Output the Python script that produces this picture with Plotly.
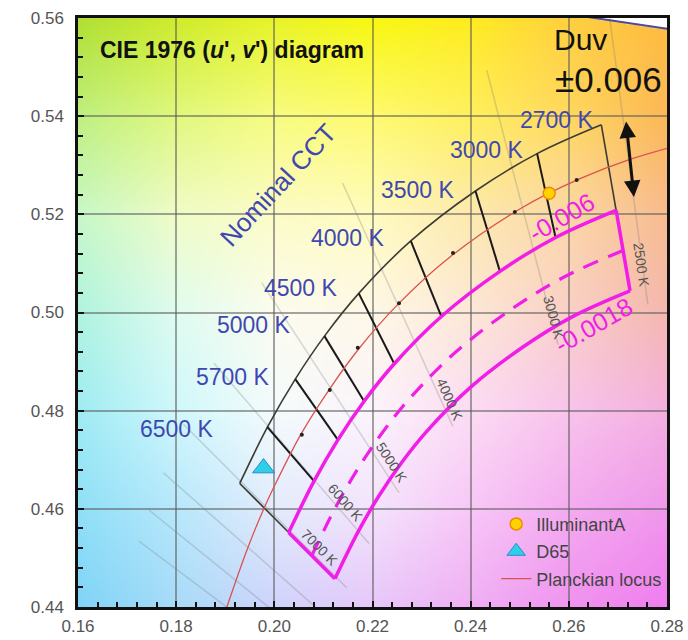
import base64, struct, zlib
import numpy as np
import plotly.graph_objects as go

# ---------------- data (CIE 1976 u', v') ----------------
# Planckian locus
locus_cct = [10000, 8000, 7000, 6500, 5700, 5000, 4500, 4000, 3500, 3000, 2700, 2500, 2200]
locus_u = [0.19032, 0.19462, 0.19811, 0.20044, 0.20552, 0.21142, 0.21730, 0.22513, 0.23572, 0.25054, 0.26252, 0.27217, 0.28757]
locus_v = [0.43998, 0.45214, 0.46059, 0.46552, 0.47537, 0.48466, 0.49272, 0.50161, 0.51126, 0.52140, 0.52736, 0.53111, 0.53549]

# spectrum locus (top-right corner)
spec_u = [0.2312, 0.2623, 0.2960]
spec_v = [0.5651, 0.5604, 0.5554]

# nominal CCT quadrangles, boundary CCTs
quad_cct = [7040, 6020, 5311, 4745, 4260, 3710, 3220, 2870, 2580]
quad_upper_u = [0.19295, 0.19859, 0.20427, 0.21021, 0.21720, 0.22780, 0.24098, 0.25354, 0.26662]  # Duv +0.006
quad_upper_v = [0.46517, 0.47664, 0.48644, 0.49519, 0.50390, 0.51458, 0.52476, 0.53237, 0.53824]
quad_lower_u = [0.20293, 0.20809, 0.21295, 0.21829, 0.22444, 0.23402, 0.24596, 0.25730, 0.26964]  # Duv -0.006
quad_lower_v = [0.45518, 0.46563, 0.47404, 0.48191, 0.48955, 0.49919, 0.50838, 0.51529, 0.52082]
# magenta region
mag_mid_u = [0.20763, 0.21255, 0.21705, 0.22210, 0.22786, 0.23696, 0.24830, 0.25908, 0.27105]
mag_mid_v = [0.45047, 0.46044, 0.46820, 0.47566, 0.48280, 0.49194, 0.50067, 0.50725, 0.51262]
mag_outer_u = [0.21234, 0.21703, 0.22113, 0.22591, 0.23127, 0.23989, 0.25065, 0.26085, 0.27247]
mag_outer_v = [0.44576, 0.45525, 0.46236, 0.46940, 0.47604, 0.48470, 0.49296, 0.49921, 0.50441]

# nominal CCT centre dots
dot_u = [0.2616, 0.2490, 0.2364, 0.2254, 0.2170, 0.2113, 0.2056]
dot_v = [0.5270, 0.5205, 0.5121, 0.5019, 0.4928, 0.4842, 0.4751]

# isotemperature lines (Duv +0.02 -> -0.02)
iso_cct = [2500, 3000, 4000, 5000, 6000, 7000, 8000, 9000, 10000]
iso_u0 = [0.26825, 0.24328, 0.21389, 0.19742, 0.18770, 0.18147, 0.17738, 0.17445, 0.17244]
iso_v0 = [0.56053, 0.54936, 0.52642, 0.50608, 0.48966, 0.47724, 0.46735, 0.45977, 0.45340]
iso_u1 = [0.27609, 0.25780, 0.23637, 0.22542, 0.21930, 0.21475, 0.21186, 0.20963, 0.20820]
iso_v1 = [0.50167, 0.49344, 0.47680, 0.46324, 0.45294, 0.44394, 0.43693, 0.43123, 0.42656]
iso_label = ["2500 K", "3000 K", "4000 K", "5000 K", "6000 K", "7000 K"]
iso_label_u = [0.27480, 0.25696, 0.23578, 0.22396, 0.21459, 0.20930]
iso_label_v = [0.50969, 0.49889, 0.48219, 0.46935, 0.46121, 0.45204]

# nominal CCT labels
cct_label = ["6500 K", "5700 K", "5000 K", "4500 K", "4000 K", "3500 K", "3000 K", "2700 K"]
cct_label_u = [0.18017, 0.19157, 0.19585, 0.20543, 0.21500, 0.22926, 0.24331, 0.25757]
cct_label_v = [0.47628, 0.48687, 0.49747, 0.50500, 0.51519, 0.52496, 0.53311, 0.53922]

# reference illuminants
illum_A = (0.2560, 0.5243)
illum_D65 = (0.1978, 0.4683)

x_ticks = [0.16, 0.18, 0.20, 0.22, 0.24, 0.26, 0.28]
y_ticks = [0.44, 0.46, 0.48, 0.50, 0.52, 0.54, 0.56]

# background colours read at the grid intersections (rows: v = 0.56 ... 0.44, cols: u = 0.16 ... 0.28)
bg_u = [0.16, 0.18, 0.20, 0.22, 0.24, 0.26, 0.28]
bg_v = [0.56, 0.54, 0.52, 0.50, 0.48, 0.46, 0.44]
bg_row_056 = ["b0e034", "d0ec2c", "e8f428", "f8f810", "ffec20", "ffd040", "ffbc40"]
bg_row_054 = ["c0f080", "e0f880", "f8fc80", "fffa70", "fff060", "ffd860", "fcb858"]
bg_row_052 = ["c8f8c8", "f0fcc8", "fcfcc8", "fffcc0", "fdeab0", "fcd8a8", "f8bc90"]
bg_row_050 = ["b0f4e0", "e0fcf0", "fcfcf0", "fff8e8", "fde8d8", "fad0c8", "f4b8b0"]
bg_row_048 = ["a0ecf4", "d0f8fc", "f4fcfc", "fcf4fc", "fcdcf4", "f8c4ec", "f4b0e0"]
bg_row_046 = ["90e0f8", "b8e8fc", "e4ecfc", "f4e4fc", "f8c8f8", "f4acf0", "f098ec"]
bg_row_044 = ["80d4f8", "a8dcf8", "d0d4fc", "e8c8fa", "f0b0f4", "f094f0", "f07ef0"]

# ---------------- background image ----------------
rows = [bg_row_056, bg_row_054, bg_row_052, bg_row_050, bg_row_048, bg_row_046, bg_row_044]
anchor = np.array([[[int(h[k:k + 2], 16) for k in (0, 2, 4)] for h in r] for r in rows], dtype=float)
N = 300
uu = 0.16 + (np.arange(N) + 0.5) * 0.12 / N
vv = 0.56 - (np.arange(N) + 0.5) * 0.12 / N
U, V = np.meshgrid(uu, vv)
fi = np.clip((U - bg_u[0]) / (bg_u[1] - bg_u[0]), 0, len(bg_u) - 1.0001)
fj = np.clip((bg_v[0] - V) / (bg_v[0] - bg_v[1]), 0, len(bg_v) - 1.0001)
i0 = fi.astype(int); j0 = fj.astype(int)
ti = (fi - i0)[..., None]; tj = (fj - j0)[..., None]
c00 = anchor[j0, i0]; c01 = anchor[j0, i0 + 1]; c10 = anchor[j0 + 1, i0]; c11 = anchor[j0 + 1, i0 + 1]
col = (c00 * (1 - ti) + c01 * ti) * (1 - tj) + (c10 * (1 - ti) + c11 * ti) * tj
outside = V > np.interp(U, spec_u, spec_v)
col[outside] = 255
img = np.clip(col, 0, 255).astype(np.uint8)


def png_bytes(a):
    h, w, _ = a.shape
    raw = b"".join(b"\x00" + a[i].tobytes() for i in range(h))

    def chunk(t, dd):
        return struct.pack(">I", len(dd)) + t + dd + struct.pack(">I", zlib.crc32(t + dd) & 0xffffffff)

    return (b"\x89PNG\r\n\x1a\n" + chunk(b"IHDR", struct.pack(">IIBBBBB", w, h, 8, 2, 0, 0, 0))
            + chunk(b"IDAT", zlib.compress(raw, 9)) + chunk(b"IEND", b""))


src = "data:image/png;base64," + base64.b64encode(png_bytes(img)).decode()

# ---------------- figure ----------------
FONT = "Liberation Sans, Arial, sans-serif"
MAG = "#f01ee6"
BLUE = "#3f48b0"
fig = go.Figure()

# isotemperature lines
for i in range(len(iso_cct)):
    fig.add_trace(go.Scatter(x=[iso_u0[i], iso_u1[i]], y=[iso_v0[i], iso_v1[i]], mode="lines",
                             line=dict(color="rgba(120,120,120,0.28)", width=1.5),
                             showlegend=False, hoverinfo="skip"))

# spectrum locus
fig.add_trace(go.Scatter(x=spec_u, y=spec_v, mode="lines", line=dict(color="#4a4aa0", width=2),
                         showlegend=False, hoverinfo="skip"))

# quadrangles: outline (upper arc + end edges)
fig.add_trace(go.Scatter(x=quad_upper_u, y=quad_upper_v, mode="lines",
                         line=dict(color="#3c3c34", width=1.6, shape="spline"),
                         showlegend=False, hoverinfo="skip"))
for i in range(len(quad_cct)):
    inner = 0 < i < len(quad_cct) - 1
    fig.add_trace(go.Scatter(x=[quad_upper_u[i], quad_lower_u[i]], y=[quad_upper_v[i], quad_lower_v[i]],
                             mode="lines",
                             line=dict(color="#1a1a1a" if inner else "#3c3c34", width=2.0 if inner else 1.6),
                             showlegend=False, hoverinfo="skip"))

# Planckian locus
fig.add_trace(go.Scatter(x=locus_u, y=locus_v, mode="lines", name="Planckian locus",
                         line=dict(color="#d9534f", width=1.3, shape="spline"), showlegend=False))

# magenta region
fig.add_trace(go.Scatter(x=quad_lower_u, y=quad_lower_v, mode="lines",
                         line=dict(color=MAG, width=3.5, shape="spline"), showlegend=False, hoverinfo="skip"))
fig.add_trace(go.Scatter(x=mag_outer_u, y=mag_outer_v, mode="lines",
                         line=dict(color=MAG, width=3.5, shape="spline"), showlegend=False, hoverinfo="skip"))
fig.add_trace(go.Scatter(x=mag_mid_u, y=mag_mid_v, mode="lines",
                         line=dict(color=MAG, width=3.2, dash="16px,11px", shape="spline"),
                         showlegend=False, hoverinfo="skip"))
for i in (0, len(quad_cct) - 1):
    fig.add_trace(go.Scatter(x=[quad_lower_u[i], mag_outer_u[i]], y=[quad_lower_v[i], mag_outer_v[i]],
                             mode="lines", line=dict(color=MAG, width=3.5),
                             showlegend=False, hoverinfo="skip"))

# centre dots
fig.add_trace(go.Scatter(x=dot_u, y=dot_v, mode="markers", marker=dict(color="#222", size=4),
                         showlegend=False, hoverinfo="skip"))

# illuminants + legend entries
fig.add_trace(go.Scatter(x=[illum_A[0]], y=[illum_A[1]], mode="markers", name="IlluminantA",
                         legendgroup="a",
                         marker=dict(symbol="circle", size=12, color="#ffd200",
                                     line=dict(color="#f08c00", width=1.5))))
fig.add_trace(go.Scatter(x=[illum_D65[0]], y=[illum_D65[1]], mode="markers", name="D65",
                         legendgroup="b",
                         marker=dict(symbol="triangle-up", size=19, color="#2ed0e8",
                                     line=dict(color="#2a8ad0", width=1))))
fig.add_trace(go.Scatter(x=[None], y=[None], mode="lines", name="Planckian locus", legendgroup="c",
                         line=dict(color="#d9534f", width=1.3)))

ann = []
ann.append(dict(x=0.16407, y=0.55348, xref="x", yref="y", xanchor="left", yanchor="middle",
                text="<b>CIE 1976 (<i>u</i>', <i>v</i>') diagram</b>", showarrow=False,
                font=dict(family=FONT, size=23, color="#111")))
ann.append(dict(x=0.25655, y=0.55560, xref="x", yref="y", xanchor="left", yanchor="middle",
                text="Duv", showarrow=False, font=dict(family=FONT, size=30, color="#111")))
ann.append(dict(x=0.26800, y=0.54737, xref="x", yref="y", xanchor="center", yanchor="middle",
                text="±0.006", showarrow=False, font=dict(family=FONT, size=35, color="#111")))
ann.append(dict(x=0.20074, y=0.52598, xref="x", yref="y", text="Nominal CCT", showarrow=False,
                textangle=-47, font=dict(family=FONT, size=26, color=BLUE)))
for t, u, v in zip(cct_label, cct_label_u, cct_label_v):
    ann.append(dict(x=u, y=v, xref="x", yref="y", text=t, showarrow=False,
                    font=dict(family=FONT, size=23, color=BLUE)))
iso_angle = [82, 75, 66, 57, 49, 45]
for t, u, v, a in zip(iso_label, iso_label_u, iso_label_v, iso_angle):
    ann.append(dict(x=u, y=v, xref="x", yref="y", text=t, showarrow=False, textangle=a,
                    font=dict(family=FONT, size=14, color="#555")))
ann.append(dict(x=0.25859, y=0.51946, xref="x", yref="y", text="-0.006", showarrow=False,
                textangle=-30, font=dict(family=FONT, size=25, color=MAG)))
ann.append(dict(x=0.26511, y=0.49746, xref="x", yref="y", text="-0.0018", showarrow=False,
                textangle=-30, font=dict(family=FONT, size=25, color=MAG)))
ann.append(dict(x=0.27326, y=0.52354, ax=0.27163, ay=0.53922, xref="x", yref="y", axref="x", ayref="y",
                text="", showarrow=True, arrowhead=2, startarrowhead=2, arrowside="end+start",
                arrowwidth=3, arrowsize=1.1, startarrowsize=1.1, arrowcolor="#111"))

axis_common = dict(showline=True, linecolor="#111", linewidth=2.5, mirror=True,
                   showgrid=True, gridcolor="rgba(90,90,90,0.55)", gridwidth=1.5,
                   ticks="inside", ticklen=6, tickwidth=1.5, tickcolor="#111",
                   minor=dict(dtick=0.004, ticks="inside", ticklen=5, tickwidth=1.5,
                              tickcolor="#111", showgrid=False),
                   tickfont=dict(family=FONT, size=17, color="#555"), zeroline=False,
                   automargin=False)

fig.update_layout(
    width=688, height=640,
    margin=dict(l=78, r=21, t=18, b=33),
    paper_bgcolor="white", plot_bgcolor="rgba(0,0,0,0)",
    xaxis=dict(range=[0.16, 0.28], tickvals=x_ticks, ticktext=[f"{t:.2f}" for t in x_ticks],
               ticklabelstandoff=2, **axis_common),
    yaxis=dict(range=[0.44, 0.56], tickvals=y_ticks, ticktext=[f"{t:.2f}" for t in y_ticks],
               ticklabelstandoff=8, **axis_common),
    images=[dict(source=src, xref="x", yref="y", x=0.16, y=0.56, sizex=0.12, sizey=0.12,
                 xanchor="left", yanchor="top", sizing="stretch", layer="below")],
    annotations=ann,
    legend=dict(x=0.71, y=0.172, xanchor="left", yanchor="top", bgcolor="rgba(0,0,0,0)",
                font=dict(family=FONT, size=18, color="#444"), itemwidth=30, tracegroupgap=1),
    showlegend=True,
)

fig.write_html("out.html")
